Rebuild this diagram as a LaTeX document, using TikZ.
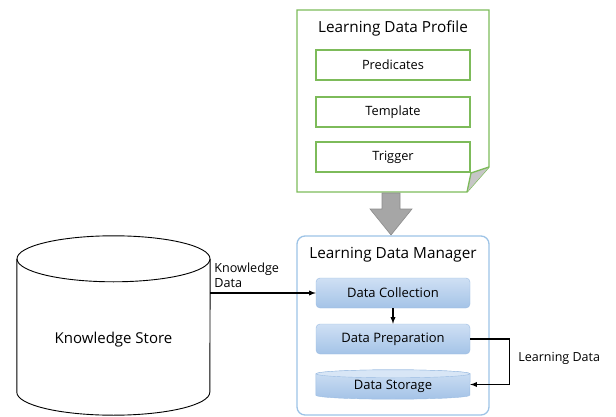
\documentclass[tikz,border=0pt]{standalone}
\usepackage{fontspec}
\setmainfont{Open Sans}
\usetikzlibrary{calc,arrows}

\definecolor{profgreen}{HTML}{7DBB5A}
\definecolor{mgrblue}{HTML}{9DC3E6}
\definecolor{boxtop}{HTML}{CFE0F4}
\definecolor{boxbot}{HTML}{A4C3E7}
\definecolor{boxedge}{HTML}{9BBCE2}
\definecolor{capfill}{HTML}{D8E6F6}

\begin{document}
\begin{tikzpicture}[x=1pt,y=1pt]
	\path [use as bounding box] (0,0) rectangle (616,416);
	\tikzstyle{every node} = [inner sep=0pt]
	\tikzstyle{item} = [draw=profgreen, line width=1.3pt, minimum width=154pt, minimum height=30pt, font=\fontsize{12.8}{14}\selectfont]
	\tikzstyle{stepbox} = [draw=boxedge, rounded corners=4pt, top color=boxtop, bottom color=boxbot, minimum width=154pt, minimum height=30pt, font=\fontsize{13}{15}\selectfont]
	\tikzstyle{link} = [line width=1.3pt, -latex]
	% profile sheet with folded corner
	\draw[profgreen, line width=1.3pt] (297,406) -- (489,406) -- (489,249) -- (467,224) -- (297,224) -- cycle;
	\filldraw[profgreen, line width=1.3pt, fill=gray!45] (489,249) -- (471,243) -- (467,224);
	\node[font=\fontsize{15.3}{17}\selectfont] (profile) at (393,388) {Learning Data Profile};
	\node[item] (pred) at (393,351) {Predicates};
	\node[item] (templ) at (393,304) {Template};
	\node[item] (trig) at (393,259) {Trigger};
	% big gray arrow
	\filldraw[draw=gray!90, fill=gray!70, line width=0.6pt] (382,223) -- (400,223) -- (400,207) -- (412,207) -- (391,181) -- (370,207) -- (382,207) -- cycle;
	% manager
	\draw[mgrblue, line width=1.3pt, rounded corners=8pt] (297,180) rectangle (489,1);
	\node[font=\fontsize{15.3}{17}\selectfont] (manager) at (393,161) {Learning Data Manager};
	\node[stepbox] (collect) at (393,123) {Data Collection};
	\node[stepbox] (prep) at (393,77) {Data Preparation};
	% data storage drum
	\node[minimum width=154pt, minimum height=29pt] (storage) at (393,31.5) {};
	\shade[draw=boxedge, top color=boxtop, bottom color=boxbot] ([yshift=-4pt]storage.north west) -- ([yshift=4pt]storage.south west) arc[start angle=180, end angle=360, x radius=77pt, y radius=4pt] -- ([yshift=-4pt]storage.north east) arc[start angle=0, end angle=180, x radius=77pt, y radius=4pt] -- cycle;
	\draw[boxedge, fill=capfill] ([yshift=-4pt]storage.north) ellipse (77pt and 4pt);
	\node[font=\fontsize{13}{15}\selectfont] at ([yshift=-2pt]storage.center) {Data Storage};
	% knowledge store drum
	\node[minimum width=193pt, minimum height=179pt] (store) at (113.5,90.5) {};
	\draw[line width=0.9pt] ([yshift=-23pt]store.north west) -- ([yshift=23pt]store.south west) arc[start angle=180, end angle=360, x radius=96.5pt, y radius=23pt] -- ([yshift=-23pt]store.north east);
	\draw[line width=0.9pt] ([yshift=-23pt]store.north) ellipse (96.5pt and 23pt);
	\node[font=\fontsize{15}{17}\selectfont] (storelabel) at ([yshift=-14pt]store.center) {Knowledge Store};
	% connectors
	\draw[link] (collect.west -| store.east) -- (collect.west);
	\node[anchor=south west, align=left, font=\fontsize{12.6}{15}\selectfont] (kdata) at ([xshift=4pt, yshift=5pt]collect.west -| store.east) {Knowledge\\Data};
	\draw[link] (collect.south) -- (prep.north);
	\coordinate (bend) at ([xshift=39pt]prep.east);
	\draw[link] (prep.east) -- (bend) |- (storage.east);
	\node[anchor=west, font=\fontsize{12.5}{15}\selectfont] (ldata) at ($(bend)!.5!(bend |- storage.east) + (9,3)$) {Learning Data};
\end{tikzpicture}
\end{document}
